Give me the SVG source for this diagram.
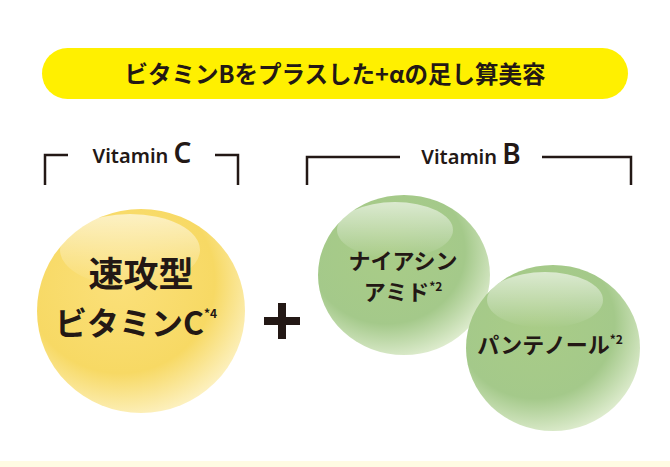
<svg xmlns="http://www.w3.org/2000/svg" width="670" height="467" viewBox="0 0 670 467">
<style>
text{font-family:"Noto Sans CJK JP","Noto Sans",sans-serif;font-weight:700;fill:#231815;text-anchor:middle}
.br{fill:none;stroke:#231815;stroke-width:2.5}
.v{font-family:"Noto Sans",sans-serif;font-size:20px;font-weight:600}
.sup{font-size:12px}
</style>
<defs>
<radialGradient id="gy" cx="0.4" cy="0.35" r="0.7">
<stop offset="0" stop-color="#fbe07a"/><stop offset="0.65" stop-color="#f7d964"/><stop offset="1" stop-color="#fdf3c8"/>
</radialGradient>
<radialGradient id="gg" cx="0.4" cy="0.35" r="0.7">
<stop offset="0" stop-color="#a9cc87"/><stop offset="0.65" stop-color="#a4c98a"/><stop offset="1" stop-color="#e3efd4"/>
</radialGradient>
<linearGradient id="hl" x1="0" y1="0" x2="0" y2="1">
<stop offset="0" stop-color="#fff" stop-opacity="0.6"/><stop offset="1" stop-color="#fff" stop-opacity="0"/>
</linearGradient>
</defs>
<rect width="670" height="467" fill="#fff"/>
<rect x="0" y="461" width="670" height="6" fill="#fffbe3"/>
<g id="title">
<rect x="42" y="48" width="586" height="51" rx="25.5" fill="#fff000"/>
<text x="335" y="83" font-size="23.5">ビタミンBをプラスした+αの足し算美容</text>
</g>
<g id="bracketC">
<path class="br" d="M45 185V155H68M215 155H238V185"/>
<text class="v" x="142" y="163">Vitamin <tspan font-size="28">C</tspan></text>
</g>
<g id="bracketB">
<path class="br" d="M307 185V157H400M542 157H631V185"/>
<text class="v" x="471" y="164">Vitamin <tspan font-size="28">B</tspan></text>
</g>
<g id="vitC">
<ellipse cx="141" cy="311" rx="104" ry="102" fill="url(#gy)"/>
<ellipse cx="130" cy="250" rx="70" ry="36" fill="url(#hl)"/>
<text x="141" y="287" font-size="35">速攻型</text>
<text x="136" y="335" font-size="32">ビタミンC<tspan class="sup" dy="-17">*4</tspan></text>
</g>
<g id="plus"><path d="M264 321H300M282 303V339" stroke="#231815" stroke-width="8"/></g>
<g id="niacin">
<ellipse cx="404" cy="275" rx="86" ry="80" fill="url(#gg)"/>
<ellipse cx="395" cy="230" rx="58" ry="28" fill="url(#hl)"/>
<text x="403" y="269" font-size="22">ナイアシン</text>
<text x="403" y="300" font-size="22">アミド<tspan class="sup" dy="-9">*2</tspan></text>
</g>
<g id="panthenol">
<ellipse cx="553" cy="348" rx="87" ry="83" fill="url(#gg)"/>
<ellipse cx="545" cy="300" rx="58" ry="28" fill="url(#hl)"/>
<text x="550" y="353" font-size="22">パンテノール<tspan class="sup" dy="-9">*2</tspan></text>
</g>
</svg>
